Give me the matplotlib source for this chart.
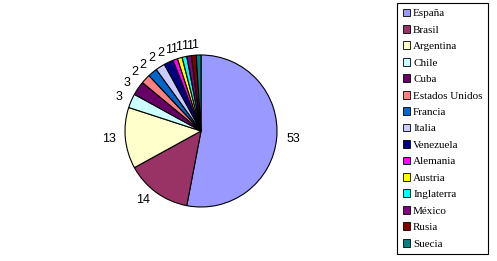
import matplotlib.pyplot as plt
from matplotlib.patches import Patch

paises = ['España', 'Brasil', 'Argentina', 'Chile', 'Cuba', 'Estados Unidos',
          'Francia', 'Italia', 'Venezuela', 'Alemania', 'Austria', 'Inglaterra',
          'México', 'Rusia', 'Suecia']
valores = [53, 14, 13, 3, 3, 2, 2, 2, 2, 1, 1, 1, 1, 1, 1]
colores = ['#9999FF', '#993366', '#FFFFCC', '#CCFFFF', '#660066', '#FF8080',
           '#0066CC', '#CCCCFF', '#000080', '#FF00FF', '#FFFF00', '#00FFFF',
           '#800080', '#800000', '#008080']

W, H = 497, 261
fig = plt.figure(figsize=(W / 100, H / 100), dpi=100)

# pie centre ~ (201,131) px, radius ~76 px
cx, cy, r = 201, 131, 76
ax = fig.add_axes([(cx - r) / W, (H - cy - r) / H, 2 * r / W, 2 * r / H])
wedges, texts = ax.pie(valores, colors=colores, startangle=90, counterclock=False,
                       labels=[str(v) for v in valores], labeldistance=1.13,
                       wedgeprops=dict(edgecolor='black', linewidth=0.8),
                       textprops=dict(fontsize=9, family='Liberation Sans'))
for t in texts:
    t.set_clip_on(False)
ax.set_xlim(-1, 1)
ax.set_ylim(-1, 1)
ax.set_aspect('equal')

handles = [Patch(facecolor=c, edgecolor='black', linewidth=0.6) for c in colores]
leg = fig.legend(handles, paises, loc='upper left',
                 bbox_to_anchor=(397 / W, 1 - 3 / H), bbox_transform=fig.transFigure,
                 fancybox=False, framealpha=1, edgecolor='black',
                 prop=dict(family='Liberation Serif', size=8),
                 handlelength=0.7, handleheight=0.7, handletextpad=0.25,
                 labelspacing=0.6, borderpad=0.5, borderaxespad=0)
leg.get_frame().set_linewidth(0.8)

fig.savefig('out.png', dpi=100)
